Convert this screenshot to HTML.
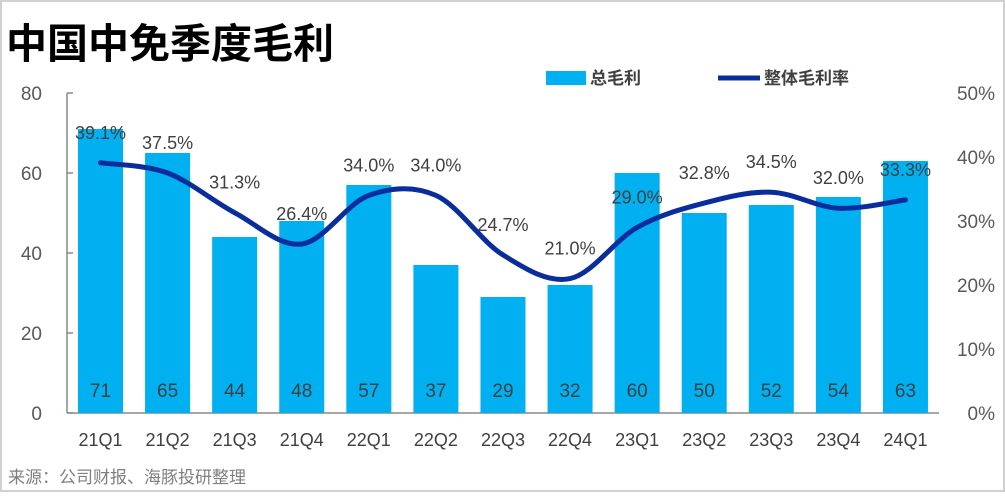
<!DOCTYPE html>
<html><head><meta charset="utf-8"><style>
body{margin:0;background:#fff}
svg text{font-family:"Liberation Sans","Noto Sans CJK SC",sans-serif}
</style></head><body>
<svg id="c" width="1005" height="492" viewBox="0 0 1005 492" xmlns="http://www.w3.org/2000/svg">
<rect x="1" y="1" width="1003" height="490" fill="#fff" stroke="#d0d0d0" stroke-width="2"/>
<text x="6" y="58" font-size="41" font-weight="bold" fill="#000">中国中免季度毛利</text>
<g>
<rect x="546" y="71" width="40" height="14" fill="#00B0F0"/>
<text x="590" y="84" font-size="17" font-weight="bold" fill="#404040">总毛利</text>
<line x1="718" y1="78" x2="760" y2="78" stroke="#0A2D9C" stroke-width="5"/>
<text x="764" y="84" font-size="17" font-weight="bold" fill="#404040">整体毛利率</text>
</g>
<g id="axes"></g><g id="bars"></g><g id="line"></g>
<text x="8" y="483" font-size="17" fill="#7f7f7f">来源：公司财报、海豚投研整理</text>
</svg>
<script>
const categories=["21Q1","21Q2","21Q3","21Q4","22Q1","22Q2","22Q3","22Q4","23Q1","23Q2","23Q3","23Q4","24Q1"];
const grossProfit=[71,65,44,48,57,37,29,32,60,50,52,54,63];
const marginPct=[39.1,37.5,31.3,26.4,34.0,34.0,24.7,21.0,29.0,32.8,34.5,32.0,33.3];
const leftTicks=[0,20,40,60,80];
const rightTicks=[0,10,20,30,40,50];
const NS="http://www.w3.org/2000/svg";
const x0=67,step=67.08,yTop=93,base=413;
const xc=i=>x0+33.5+i*step;
const yL=v=>base-(v/80)*(base-yTop);
const yR=v=>base-(v/50)*(base-yTop);
function mk(t,a,p){const e=document.createElementNS(NS,t);for(const k in a)e.setAttribute(k,a[k]);p.appendChild(e);return e;}
const ax=document.getElementById('axes'),bg=document.getElementById('bars'),lg=document.getElementById('line');
let e=mk('line',{x1:x0,y1:yTop,x2:x0,y2:base,stroke:'#888','stroke-width':1.5},ax);


e=mk('line',{x1:x0,y1:base,x2:x0+13*step,y2:base,stroke:'#888','stroke-width':1.5},ax);


leftTicks.forEach(v=>{
 const t=mk('line',{x1:x0,y1:yL(v),x2:x0+6,y2:yL(v),stroke:'#888','stroke-width':1.5},ax);
 
 
 const l=mk('text',{x:42,y:yL(v)+7,'font-size':19,fill:'#595959','text-anchor':'end'},ax);l.textContent=v;
 
 
});
rightTicks.forEach(v=>{
 const l=mk('text',{x:995,y:yR(v)+7,'font-size':19,fill:'#595959','text-anchor':'end'},ax);l.textContent=v+'%';
 
 
});
categories.forEach((c,i)=>{
 const l=mk('text',{x:xc(i),y:446,'font-size':18,fill:'#404040','text-anchor':'middle'},ax);l.textContent=c;
 
 
 const r=mk('rect',{x:xc(i)-22.5,y:yL(grossProfit[i]),width:45,height:base-yL(grossProfit[i]),fill:'#00B0F0'},bg);
 
 
 const bl=mk('text',{x:xc(i),y:397,'font-size':19,fill:'#404040','text-anchor':'middle'},bg);bl.textContent=grossProfit[i];
 
 
});
const pts=marginPct.map((v,i)=>[xc(i),yR(v)]);
let d='M'+pts[0][0]+','+pts[0][1];
for(let i=0;i<pts.length-1;i++){
 const p0=pts[Math.max(i-1,0)],p1=pts[i],p2=pts[i+1],p3=pts[Math.min(i+2,pts.length-1)];
 const k=1/6;
 d+=` C${p1[0]+(p2[0]-p0[0])*k},${p1[1]+(p2[1]-p0[1])*k} ${p2[0]-(p3[0]-p1[0])*k},${p2[1]-(p3[1]-p1[1])*k} ${p2[0]},${p2[1]}`;
}
const pl=mk('path',{d:d,fill:'none',stroke:'#0A2D9C','stroke-width':5,'stroke-linecap':'round'},lg);


marginPct.forEach((v,i)=>{
 const l=mk('text',{x:xc(i),y:yR(v)-24,'font-size':18,fill:'#404040','text-anchor':'middle'},lg);l.textContent=v.toFixed(1)+'%';
 
 
});
</script>
</body></html>
